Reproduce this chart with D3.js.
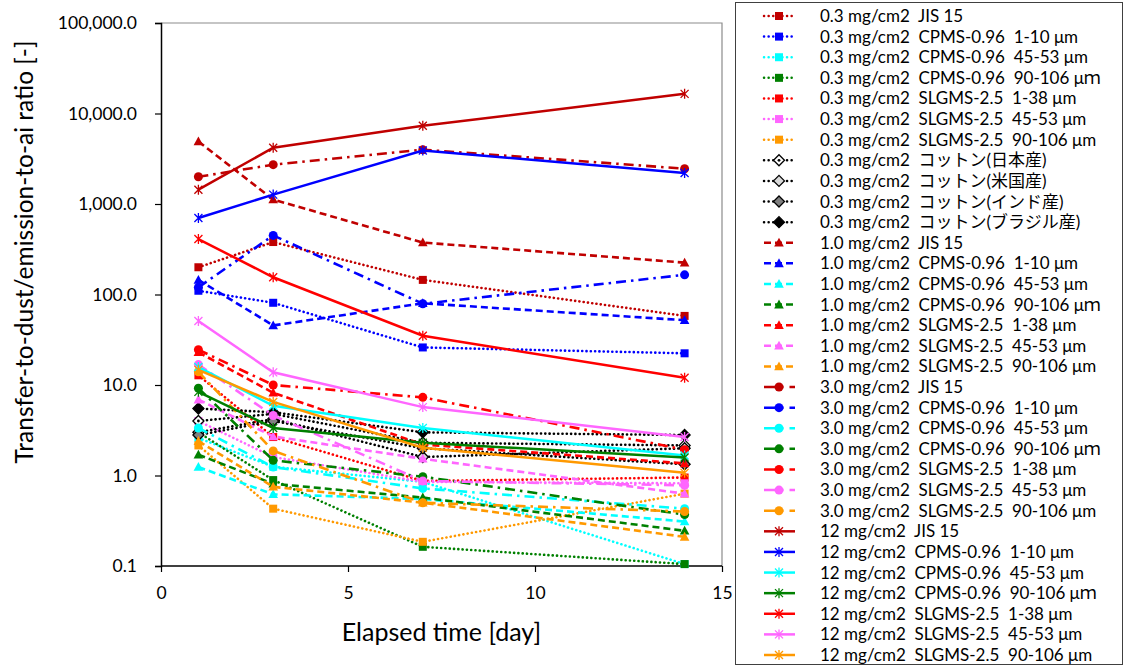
<!DOCTYPE html>
<html>
<head>
<meta charset="utf-8">
<script src="https://cdn.jsdelivr.net/npm/d3@7"></script>
<style>
  body { margin: 0; background: #fff; }
  text { font-family: Lato, "Noto Sans CJK JP", sans-serif; fill: #000; }
</style>
</head>
<body>
<div id="chart"></div>
<script>
const W = 1125, H = 666;
const pad = { left: 161, right: 403, top: 23, bottom: 100 };

const days = [1, 3, 7, 14];
const xTicks = [0, 5, 10, 15];
const yTicks = [0.1, 1, 10, 100, 1000, 10000, 100000];

const loads = ["0.3 mg/cm2", "1.0 mg/cm2", "3.0 mg/cm2", "12 mg/cm2"];
const materials = [
  "JIS 15",
  "CPMS-0.96  1-10 μm",
  "CPMS-0.96  45-53 μm",
  "CPMS-0.96  90-106 μｍ",
  "SLGMS-2.5  1-38 μm",
  "SLGMS-2.5  45-53 μm",
  "SLGMS-2.5  90-106 μm"
];
const cottons = ["コットン(日本産)", "コットン(米国産)", "コットン(インド産)", "コットン(ブラジル産)"];

// values at day 1, 3, 7, 14
const load03 = [
  [200, 380, 145, 58],
  [110, 81, 26, 22.4],
  [2.6, 1.25, 0.85, 0.105],
  [3.0, 0.89, 0.163, 0.105],
  [12.8, 2.66, 0.87, 0.95],
  [4.0, 1.6, 0.85, 0.82],
  [2.15, 0.43, 0.185, 0.63]
];
const cotton03 = [
  [4.0, 4.8, 2.3, 2.15],
  [3.0, 4.2, 1.6, 2.0],
  [2.8, 4.0, 2.0, 1.33],
  [5.5, 5.0, 3.0, 2.8]
];
const load10 = [
  [4900, 1120, 375, 225],
  [145, 45.5, 80, 52],
  [1.24, 0.62, 0.55, 0.31],
  [1.7, 0.81, 0.57, 0.245],
  [23, 8.2, 2.2, 1.36],
  [6.9, 2.7, 1.53, 0.63],
  [2.4, 0.75, 0.5, 0.21]
];
const load30 = [
  [2000, 2720, 3980, 2455],
  [120, 450, 79, 165],
  [3.35, 1.24, 0.72, 0.43],
  [9.2, 1.47, 0.97, 0.37],
  [24.5, 10.0, 7.3, 1.93],
  [16.8, 4.6, 0.87, 0.78],
  [14, 1.87, 0.5, 0.4]
];
const load12 = [
  [1440, 4180, 7310, 16480],
  [700, 1270, 3900, 2200],
  [15.8, 5.9, 3.35, 1.66],
  [8.4, 3.35, 2.3, 1.58],
  [410, 155, 35, 12],
  [51, 13.8, 5.7, 2.66],
  [14.7, 6.5, 2.03, 1.07]
];

const colors = ["#C00000", "#0000FF", "#00FFFF", "#008000", "#FF0000", "#FF66FF", "#FF9900"];
const cottonFill = ["#ffffff", "#d9d9d9", "#808080", "#000000"];
const dash = ["0.1,4.2", "7,4", "10,5,2.5,5", null];
const shape = ["square", "triangle", "circle", "star"];

// build series list in legend order
var series = [];
load03.forEach((v, i) => series.push({ name: loads[0] + "  " + materials[i], values: v, color: colors[i], group: 0 }));
cotton03.forEach((v, i) => series.push({ name: loads[0] + "  " + cottons[i], values: v, color: "#000", fill: cottonFill[i], group: 0, cotton: i }));
load10.forEach((v, i) => series.push({ name: loads[1] + "  " + materials[i], values: v, color: colors[i], group: 1 }));
load30.forEach((v, i) => series.push({ name: loads[2] + "  " + materials[i], values: v, color: colors[i], group: 2 }));
load12.forEach((v, i) => series.push({ name: loads[3] + "  " + materials[i], values: v, color: colors[i], group: 3 }));

const svg = d3.select("#chart").append("svg").attr("width", W).attr("height", H);

const xScale = d3.scaleLinear().domain([0, 15]).range([pad.left, W - pad.right]);
const yScale = d3.scaleLog().domain([0.1, 100000]).range([H - pad.bottom, pad.top]);

// plot frame (top / right)
svg.append("path")
  .attr("d", `M${xScale(0)},${yScale(100000)}H${xScale(15)}V${yScale(0.1)}`)
  .attr("fill", "none").attr("stroke", "#8c8c8c").attr("stroke-width", 1.2);

// axes
var xAxis = svg.append("g")
  .attr("transform", `translate(0,${yScale(0.1)})`)
  .call(d3.axisBottom(xScale).tickValues(xTicks).tickSize(6).tickPadding(15).tickFormat(d3.format("d")));
var yAxis = svg.append("g")
  .attr("transform", `translate(${xScale(0)},0)`)
  .call(d3.axisLeft(yScale).tickValues(yTicks).tickSize(6).tickPadding(18).tickFormat(d3.format(",.1f")));
[xAxis, yAxis].forEach((a) => {
  a.select(".domain").attr("stroke", "#000").attr("stroke-width", 1.5);
  a.selectAll(".tick line").attr("stroke", "#000").attr("stroke-width", 1.2);
  a.selectAll("text").style("font-family", "Lato, sans-serif").style("font-size", "17.5px").attr("fill", "#000");
});
xAxis.selectAll(".domain").attr("d", `M${xScale(0)},0H${xScale(15)}`);

svg.append("text")
  .attr("x", (xScale(0) + xScale(15)) / 2).attr("y", 641)
  .attr("text-anchor", "middle").style("font-size", "25px")
  .text("Elapsed time [day]");
svg.append("text")
  .attr("transform", "translate(33,252) rotate(-90)")
  .attr("text-anchor", "middle").style("font-size", "24.5px")
  .text("Transfer-to-dust/emission-to-ai ratio [-]");

// marker drawing helper
function drawMarker(g, s, cx, cy) {
  const t = shape[s.group];
  if (s.cotton !== undefined) {
    g.append("path")
      .attr("d", `M${cx},${cy - 5.5}L${cx + 5.5},${cy}L${cx},${cy + 5.5}L${cx - 5.5},${cy}Z`)
      .attr("fill", s.fill).attr("stroke", "#000").attr("stroke-width", 1.3);
    if (s.cotton === 0) g.append("circle").attr("cx", cx).attr("cy", cy).attr("r", 1.4).attr("fill", "#000");
    return;
  }
  if (t === "square") {
    g.append("rect").attr("x", cx - 4).attr("y", cy - 4).attr("width", 8).attr("height", 8).attr("fill", s.color);
  } else if (t === "triangle") {
    g.append("path").attr("d", `M${cx},${cy - 5}L${cx + 4.8},${cy + 3.8}L${cx - 4.8},${cy + 3.8}Z`).attr("fill", s.color);
  } else if (t === "circle") {
    g.append("circle").attr("cx", cx).attr("cy", cy).attr("r", 4.5).attr("fill", s.color);
  } else {
    g.append("path")
      .attr("d", `M${cx - 4},${cy - 4}L${cx + 4},${cy + 4}M${cx - 4},${cy + 4}L${cx + 4},${cy - 4}M${cx},${cy - 5}V${cy + 5}`)
      .attr("stroke", s.color).attr("stroke-width", 1.3).attr("fill", "none");
  }
}

const line = d3.line().x((d, i) => xScale(days[i])).y((d) => yScale(d));

var plot = svg.append("g");
series.forEach((s) => {
  var g = plot.append("g");
  g.append("path")
    .datum(s.values)
    .attr("d", line)
    .attr("fill", "none")
    .attr("stroke", s.color)
    .attr("stroke-width", s.group === 3 ? 2.5 : 2.6)
    .attr("stroke-linecap", s.group === 0 ? "round" : "butt")
    .attr("stroke-dasharray", dash[s.group]);
  s.values.forEach((v, i) => drawMarker(g, s, xScale(days[i]), yScale(v)));
});

// legend
const legX = 735, legY = 2, legW = 387, legH = 662;
const rowY = d3.scaleLinear().domain([0, series.length - 1]).range([16, 655]);
var legend = svg.append("g");
legend.append("rect")
  .attr("x", legX + 0.5).attr("y", legY + 0.5).attr("width", legW).attr("height", legH)
  .attr("fill", "#fff").attr("stroke", "#404040").attr("stroke-width", 1);
series.forEach((s, i) => {
  var y = rowY(i);
  var g = legend.append("g");
  g.append("line")
    .attr("x1", 764).attr("x2", 795).attr("y1", y).attr("y2", y)
    .attr("stroke", s.color)
    .attr("stroke-width", 2.5)
    .attr("stroke-linecap", s.group === 0 ? "round" : "butt")
    .attr("stroke-dasharray", s.group === 0 ? "0.1,4.5" : s.group === 1 ? "7,4" : s.group === 2 ? "11,6,2.5,6" : null);
  drawMarker(g, s, 779, y);
  g.append("text")
    .attr("x", 820).attr("y", y + 6)
    .style("font-size", "17px")
    .style("white-space", "pre")
    .attr("xml:space", "preserve")
    .text(s.name);
});
</script>
</body>
</html>
